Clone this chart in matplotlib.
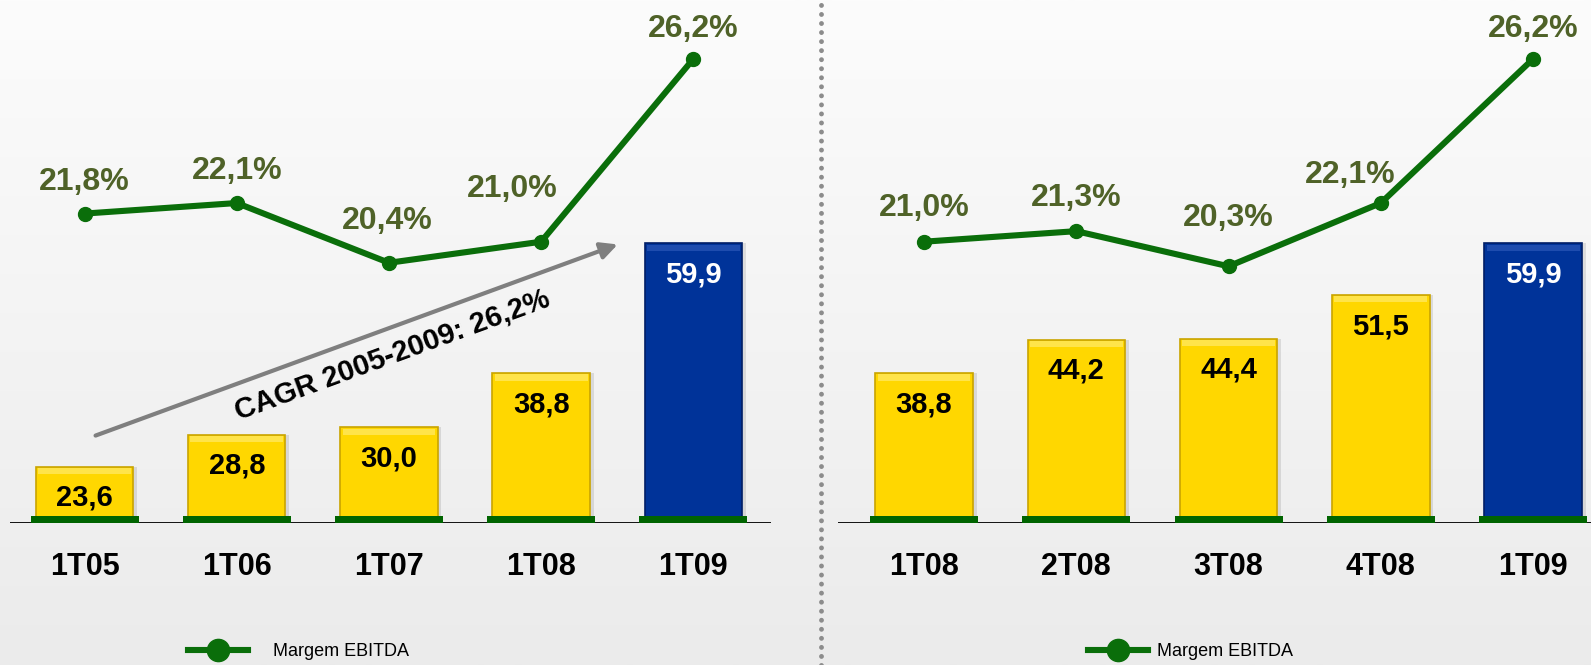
import numpy as np
import matplotlib
matplotlib.use("Agg")
import matplotlib.pyplot as plt

plt.rcParams['font.family'] = ['Liberation Sans', 'DejaVu Sans']

# data
cats_left = ['1T05', '1T06', '1T07', '1T08', '1T09']
ebitda_left = [23.6, 28.8, 30.0, 38.8, 59.9]
margin_left = [21.8, 22.1, 20.4, 21.0, 26.2]

cats_right = ['1T08', '2T08', '3T08', '4T08', '1T09']
ebitda_right = [38.8, 44.2, 44.4, 51.5, 59.9]
margin_right = [21.0, 21.3, 20.3, 22.1, 26.2]

cagr_text = 'CAGR 2005-2009: 26,2%'
legend_label = 'Margem EBITDA'

# label offsets (pixels) for the margin labels
off_left = [(0, 32), (0, 32), (-2, 42), (-29, 53), (0, 30)]
off_right = [(0, 34), (0, 33), (0, 48), (-31, 28), (0, 30)]

W, H = 1591, 665
fig = plt.figure(figsize=(W / 100, H / 100), dpi=100)

# background gradient
bg = fig.add_axes([0, 0, 1, 1], zorder=-10)
grad = np.linspace(0, 1, 256).reshape(-1, 1)
bg.imshow(grad, aspect='auto', cmap=matplotlib.colors.LinearSegmentedColormap.from_list(
    'bg', ['#FCFCFC', '#EBEBEB']), extent=[0, 1, 0, 1])
bg.axis('off')

YELLOW = '#FFD700'
BLUE = '#003399'
GREEN_LINE = '#0A6E0A'
GREEN_TXT = '#4F6228'
BASE_GREEN = '#006400'

ymin, ymax = 14.5, 99.5
y2min, y2max = 13.01, 27.875


def panel(rect, cats, vals, margins, offs, xlim, legend_x):
    ax = fig.add_axes(rect)
    ax.patch.set_alpha(0)
    x = np.arange(len(cats))
    colors = [YELLOW] * (len(cats) - 1) + [BLUE]
    edges = ['#C9A400'] * (len(cats) - 1) + ['#001E66']
    hts = [v - ymin for v in vals]
    # shadow
    ax.bar(x + 0.025, hts, 0.64, bottom=ymin, color='#000000', alpha=0.10, zorder=1)
    ax.bar(x, hts, 0.64, bottom=ymin, color=colors, edgecolor=edges, linewidth=1.2, zorder=2)
    # bevel highlight on top
    tops = ['#FFE44A'] * (len(cats) - 1) + ['#1E4CAE']
    ax.bar(x, [1.0] * len(x), 0.61, bottom=[v - 1.2 for v in vals], color=tops, zorder=3)
    # green base strip
    ax.bar(x, [1.0] * len(x), 0.71, bottom=ymin, color=BASE_GREEN, zorder=4)
    ax.axhline(ymin, color='black', lw=1.3, zorder=3.5)
    for i, v in enumerate(vals):
        tc = 'white' if i == len(vals) - 1 else 'black'
        ax.annotate(f'{v:.1f}'.replace('.', ','), (x[i], v), xytext=(0, -31),
                    textcoords='offset pixels', ha='center', va='center',
                    fontsize=21, fontweight='bold', color=tc, zorder=5)
    ax.set_xlim(*xlim)
    ax.set_ylim(ymin, ymax)
    ax.set_xticks(x)
    ax.set_xticklabels(cats, fontsize=22, fontweight='bold')
    ax.tick_params(axis='x', length=0, pad=21)
    ax.set_yticks([])
    for s in ax.spines.values():
        s.set_visible(False)

    ax2 = ax.twinx()
    line, = ax2.plot(x, margins, color=GREEN_LINE, lw=4.4, marker='o', ms=10,
                     zorder=6, label=legend_label)
    for i, m in enumerate(margins):
        ax2.annotate(f'{m:.1f}%'.replace('.', ','), (x[i], m), xytext=offs[i],
                     textcoords='offset pixels', ha='center', va='center',
                     fontsize=23, fontweight='bold', color=GREEN_TXT)
    ax2.set_ylim(y2min, y2max)
    ax2.set_yticks([])
    for s in ax2.spines.values():
        s.set_visible(False)
    ax2.legend(handles=[line], loc='center left', bbox_to_anchor=(legend_x, 1 - 652 / H),
               bbox_transform=fig.transFigure, frameon=False, fontsize=13,
               borderpad=0, borderaxespad=0, handlelength=3.3,
               handletextpad=1.4 if legend_x < 0.5 else 0.5, markerscale=1.6)
    return ax


axb = 522.6 / H
axL = panel([10 / W, 1 - axb, 761 / W, axb], cats_left, ebitda_left, margin_left,
            off_left, (-0.49, 4.51), 188 / W)
axR = panel([838 / W, 1 - axb, 753 / W, axb], cats_right, ebitda_right, margin_right,
            off_right, (-0.565, 4.38), 1088 / W)

# CAGR arrow
axL.annotate('', xy=(3.52, 59.9), xytext=(0.055, 28.5),
             arrowprops=dict(arrowstyle='-|>,head_length=1.0,head_width=0.5',
                             color='#7F7F7F', lw=3), zorder=7)
axL.text(2.02, 41.8, cagr_text, rotation=20.1, rotation_mode='anchor',
         ha='center', va='center', fontsize=21, fontweight='bold', zorder=7)

# dotted separator
fig.add_artist(plt.Line2D([821 / W, 821 / W], [0, 1], transform=fig.transFigure,
                          color='#8C8C8C', lw=3.5, linestyle=(0, (0.01, 1.85)),
                          dash_capstyle='round'))

fig.savefig('out.png', dpi=100)
